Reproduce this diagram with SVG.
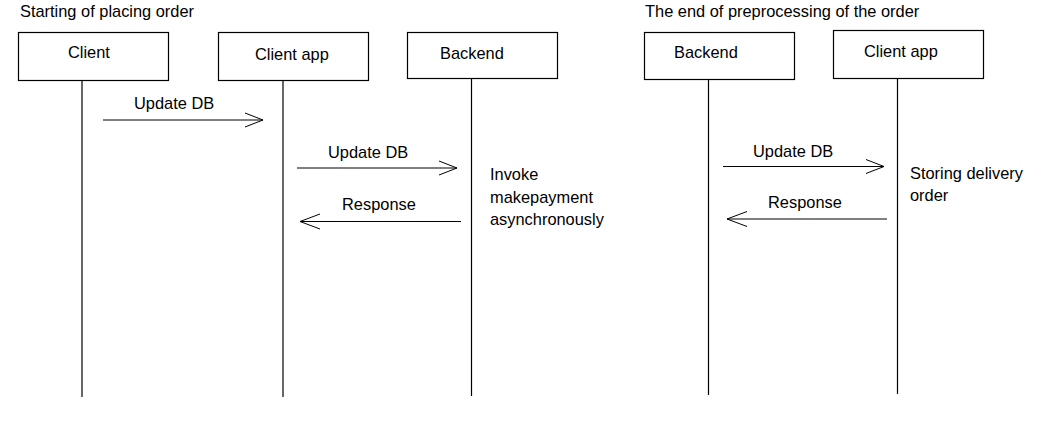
<svg xmlns="http://www.w3.org/2000/svg" width="1050" height="424" viewBox="0 0 1050 424">
<style>
text{font-family:"Liberation Sans",Arial,sans-serif;font-size:16.4px;fill:#000}
.box{fill:#fff;stroke:#000;stroke-width:1.2}
.life{stroke:#000;stroke-width:1.2;fill:none}
.msg{stroke:#000;stroke-width:1;fill:none}
</style>
<rect width="1050" height="424" fill="#fff"/>
<text x="20" y="17">Starting of placing order</text>
<text x="645" y="17">The end of preprocessing of the order</text>
<g id="lifelines">
<line class="life" x1="82" y1="80" x2="82" y2="397"/>
<line class="life" x1="283" y1="80" x2="283" y2="397"/>
<line class="life" x1="471.5" y1="78" x2="471.5" y2="396"/>
<line class="life" x1="708.5" y1="79" x2="708.5" y2="395"/>
<line class="life" x1="897.5" y1="78" x2="897.5" y2="394"/>
</g>
<g id="client"><rect class="box" x="18.5" y="32.5" width="150" height="48"/><text x="68" y="58">Client</text></g>
<g id="client-app"><rect class="box" x="218.5" y="32.5" width="150" height="48"/><text x="255" y="60">Client app</text></g>
<g id="backend"><rect class="box" x="407.5" y="32.5" width="150" height="46"/><text x="440" y="59">Backend</text></g>
<g id="backend-2"><rect class="box" x="644.5" y="32.5" width="150" height="47"/><text x="674" y="58">Backend</text></g>
<g id="client-app-2"><rect class="box" x="833.5" y="30.5" width="150" height="48"/><text x="864" y="57">Client app</text></g>
<g id="connectors">
<path class="msg" d="M103 120H263M245 113L263 120L245 127"/>
<text x="134" y="109">Update DB</text>
<path class="msg" d="M297 168H457M439 161L457 168L439 175"/>
<text x="328" y="158">Update DB</text>
<path class="msg" d="M461 221.5H300M320 214L300 221.5L320 229"/>
<text x="342" y="210">Response</text>
<path class="msg" d="M723 166.5H884M866 159.5L884 166.5L866 173.5"/>
<text x="753" y="157">Update DB</text>
<path class="msg" d="M887 219H727M747 211.5L727 219L747 226.5"/>
<text x="768" y="208">Response</text>
</g>
<g id="notes">
<text x="490" y="180">Invoke</text>
<text x="490" y="203">makepayment</text>
<text x="490" y="225">asynchronously</text>
<text x="910" y="179">Storing delivery</text>
<text x="910" y="201">order</text>
</g>
</svg>
